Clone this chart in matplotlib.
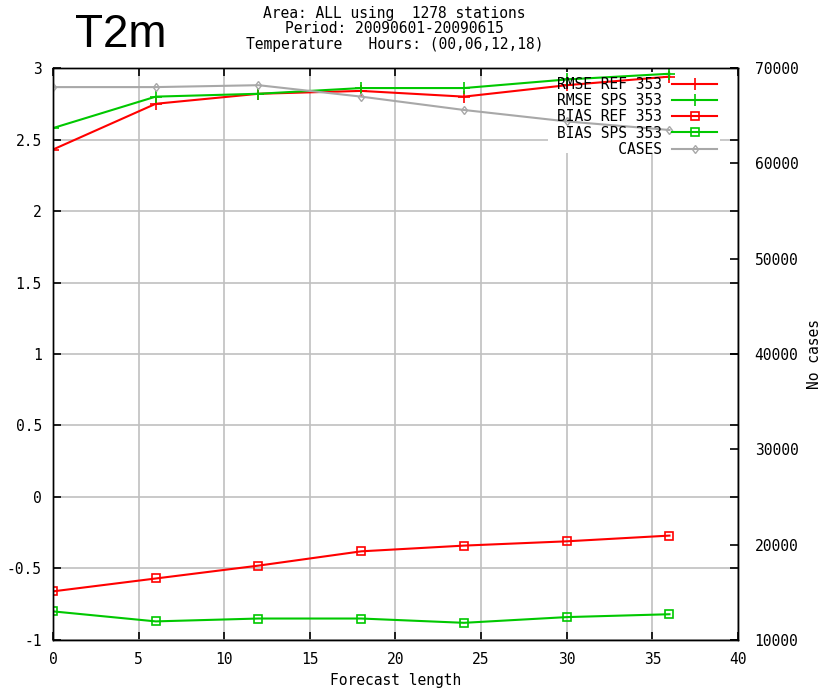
import matplotlib
matplotlib.use("Agg")
import matplotlib.pyplot as plt
from matplotlib.patches import Rectangle

# Forecast lead times (hours)
lead = [0, 6, 12, 18, 24, 30, 36]

# Scores per lead time
rmse_ref = [2.43, 2.75, 2.82, 2.84, 2.80, 2.88, 2.94]
rmse_sps = [2.58, 2.80, 2.82, 2.86, 2.86, 2.92, 2.96]
bias_ref = [-0.66, -0.57, -0.48, -0.38, -0.34, -0.31, -0.27]
bias_sps = [-0.80, -0.87, -0.85, -0.85, -0.88, -0.84, -0.82]

# Number of cases per lead time (right axis)
cases = [68000, 68000, 68200, 67000, 65600, 64400, 63500]

labels = ["RMSE REF 353", "RMSE SPS 353", "BIAS REF 353", "BIAS SPS 353", "CASES"]

RED = "#ff0000"
GREEN = "#00c800"
GRAY = "#a8a8a8"
MONO = "DejaVu Sans Mono"
FS = 10.5

fig = plt.figure(figsize=(8.24, 6.90), dpi=100)
ax = fig.add_axes([0.0643, 0.0725, 0.8313, 0.8289])
ax2 = ax.twinx()

ax.set_xlim(0, 40)
ax.set_ylim(-1, 3)
ax.set_xticks(range(0, 41, 5))
ax.set_yticks([-1, -0.5, 0, 0.5, 1, 1.5, 2, 2.5, 3])
ax.set_yticklabels(["-1", "-0.5", "0", "0.5", "1", "1.5", "2", "2.5", "3"])
ax.set_axisbelow(True)
ax.grid(True, color="#c0c0c0", lw=1.2)

# blank area behind the key
ax.add_patch(Rectangle((0.723, 0.851), 0.251, 0.142, transform=ax.transAxes,
                       facecolor="white", edgecolor="none", zorder=1.5))

h1, = ax.plot(lead, rmse_ref, color=RED, lw=1.5, marker="+", ms=8, mew=1.2)
h2, = ax.plot(lead, rmse_sps, color=GREEN, lw=1.5, marker="+", ms=8, mew=1.2)
h3, = ax.plot(lead, bias_ref, color=RED, lw=1.5, marker="s", ms=5.5, mfc="none", mew=1.2)
h4, = ax.plot(lead, bias_sps, color=GREEN, lw=1.5, marker="s", ms=5.5, mfc="none", mew=1.2)

ax2.set_ylim(10000, 70000)
ax2.set_yticks(range(10000, 70001, 10000))
h5, = ax2.plot(lead, cases, color=GRAY, lw=1.5, marker="d", ms=4.5, mfc="none", mew=1.0)

for a in (ax, ax2):
    for sp in a.spines.values():
        sp.set_color("black")
        sp.set_linewidth(1.0)

ax.tick_params(axis="both", direction="in", length=6, width=1.2, top=True,
               right=True, labelsize=FS, labelfontfamily=MONO)
ax.tick_params(axis="y", pad=8)
ax.tick_params(axis="x", pad=9)
ax2.tick_params(axis="y", direction="in", length=6, width=1.2,
                labelsize=FS, labelfontfamily=MONO, pad=12)

ax.set_xlabel("Forecast length", fontsize=FS, family=MONO, labelpad=4)
ax2.set_ylabel("No cases", fontsize=FS, family=MONO, labelpad=6)

width = max(len(s) for s in labels)
ax2.legend([h1, h2, h3, h4, h5], [s.rjust(width) for s in labels],
           loc="upper right", bbox_to_anchor=(0.97, 0.985), frameon=False,
           markerfirst=False, prop={"family": MONO, "size": FS},
           handlelength=3.1, handletextpad=0.7, labelspacing=0.09,
           borderaxespad=0, borderpad=0)

fig.text(0.091, 0.932, "T2m", fontsize=33, family="Liberation Sans")
fig.text(0.479, 0.992, "Area: ALL using  1278 stations\n"
         "Period: 20090601-20090615\n"
         "Temperature   Hours: (00,06,12,18)",
         ha="center", va="top", multialignment="center",
         fontsize=FS, family=MONO, linespacing=1.08)

fig.savefig("out.png", dpi=100)
